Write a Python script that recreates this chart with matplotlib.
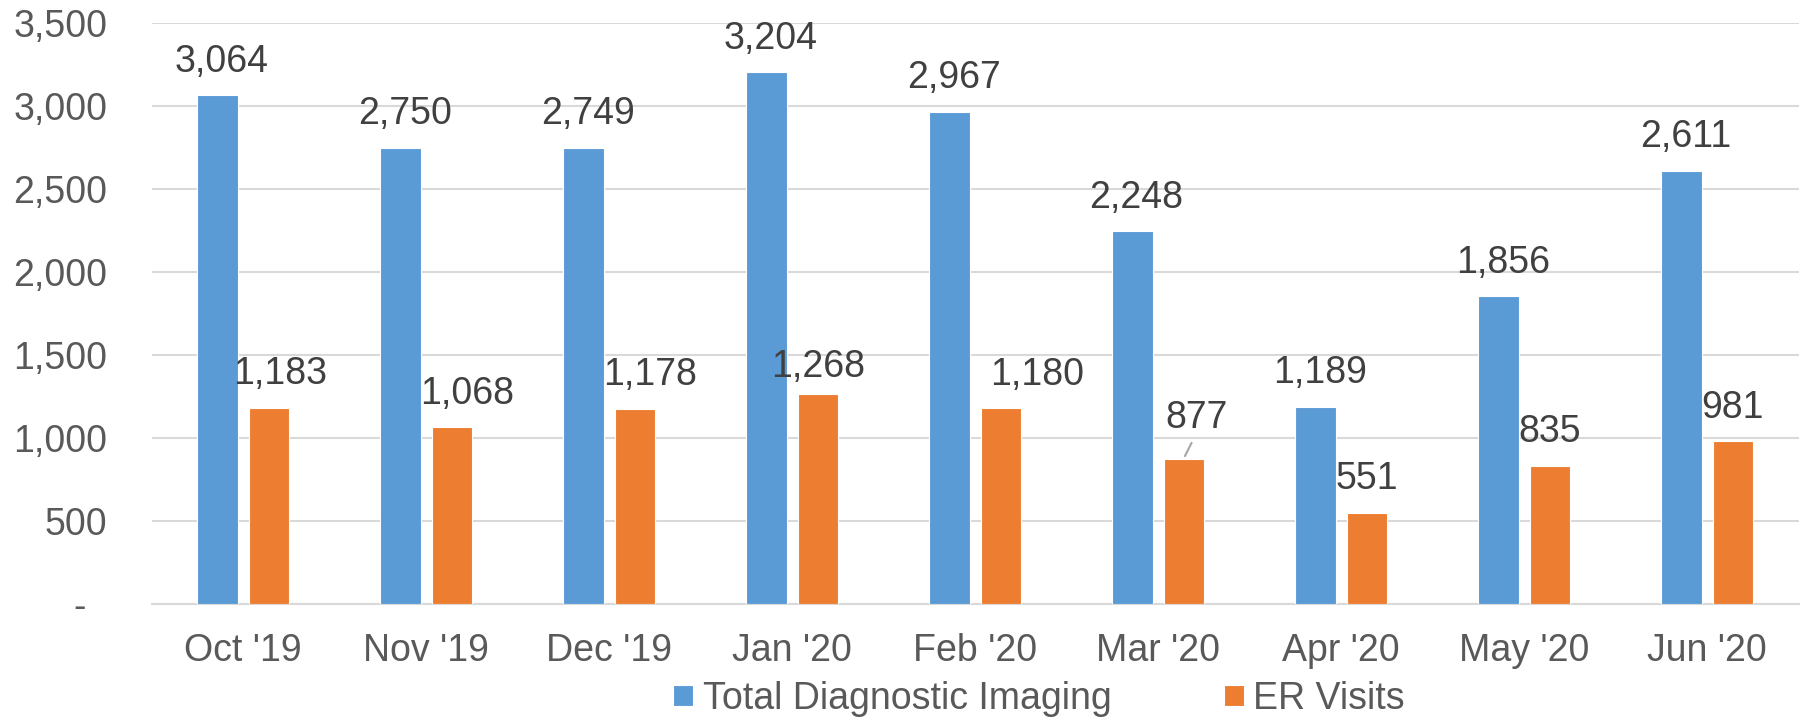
import matplotlib.pyplot as plt
import numpy as np

months = ["Oct '19", "Nov '19", "Dec '19", "Jan '20", "Feb '20",
          "Mar '20", "Apr '20", "May '20", "Jun '20"]
imaging = [3064, 2750, 2749, 3204, 2967, 2248, 1189, 1856, 2611]
er_visits = [1183, 1068, 1178, 1268, 1180, 877, 551, 835, 981]
yticks = [0, 500, 1000, 1500, 2000, 2500, 3000, 3500]

# label nudges (points) to mimic the hand-placed Excel labels
er_dx = [8, 11, 11, 0, 26, 9, 0, 0, 0]
er_dy = [24, 24, 24, 19, 24, 29, 24, 24, 24]

plt.rcParams['font.family'] = ['Liberation Sans', 'DejaVu Sans']
fs = 27

fig = plt.figure(figsize=(18.04, 7.21), dpi=100)
ax = fig.add_axes([0.084, 0.162, 0.913, 0.806])

x = np.arange(len(months))
w = 0.22
off = 0.14
blue = '#5B9BD5'
orange = '#ED7D31'

b1 = ax.bar(x - off, imaging, w, color=blue, edgecolor='white', linewidth=0.8,
            label='Total Diagnostic Imaging', zorder=3)
b2 = ax.bar(x + off, er_visits, w, color=orange, edgecolor='white', linewidth=0.8,
            label='ER Visits', zorder=3)

for xi, v in zip(x, imaging):
    ax.annotate(f'{v:,}', (xi - off, v), xytext=(3, 24), textcoords='offset points',
                ha='center', va='center', fontsize=fs, color='#404040')

for i, (xi, v) in enumerate(zip(x, er_visits)):
    ax.annotate(f'{v:,}', (xi + off, v), xytext=(er_dx[i], er_dy[i]),
                textcoords='offset points', ha='center', va='center',
                fontsize=fs, color='#404040')
    if v == 877:
        # leader line for the moved label
        ax.annotate('', (xi + off, v), xytext=(xi + off + 0.05, v + 110),
                    arrowprops=dict(arrowstyle='-', color='#A6A6A6', lw=1.5))

ax.set_ylim(0, 3500)
ax.set_xlim(-0.5, len(months) - 0.5)
ax.set_yticks(yticks)
ax.set_yticklabels(['-  ' if t == 0 else f'{t:,}' for t in yticks])
ax.set_xticks(x)
ax.set_xticklabels(months)
ax.tick_params(axis='both', length=0, labelsize=fs, colors='#595959')
ax.tick_params(axis='y', pad=32)
ax.tick_params(axis='x', pad=21)

ax.grid(axis='y', color='#D9D9D9', linewidth=1.5, zorder=0)
for s in ['top', 'right', 'left']:
    ax.spines[s].set_visible(False)
ax.spines['bottom'].set_color('#D9D9D9')
ax.spines['bottom'].set_linewidth(1.5)

fig.legend(handles=[b1, b2], loc='center', bbox_to_anchor=(0.576, 0.031),
           ncol=2, frameon=False, fontsize=fs, labelcolor='#595959',
           handlelength=0.53, handleheight=0.5, handletextpad=0.25,
           columnspacing=3.0)

fig.savefig('out.png', dpi=100)
